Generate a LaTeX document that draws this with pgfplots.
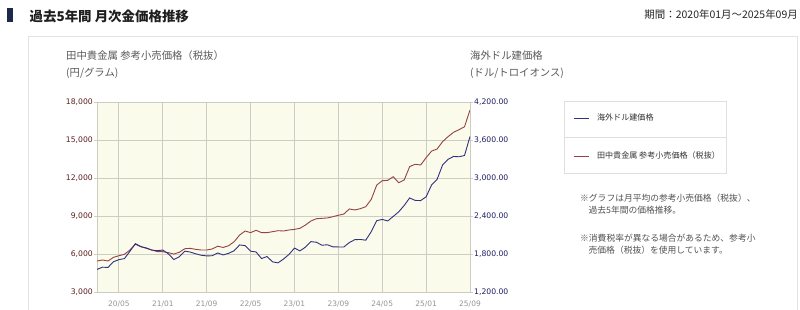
\documentclass[border=0pt]{standalone}
\usepackage{fontspec}
\usepackage{pgfplots}
\usepackage{pgfplotstable}
\pgfplotsset{compat=1.18}
\setmainfont{Noto Sans CJK JP}
\newfontfamily\tickfont{DejaVu Sans}
\definecolor{redline}{RGB}{148,66,66}
\definecolor{blueline}{RGB}{48,48,128}
\definecolor{leftlab}{RGB}{92,30,30}
\definecolor{rightlab}{RGB}{30,30,100}
\definecolor{plotbg}{RGB}{251,251,236}
\definecolor{gridc}{RGB}{205,205,195}
\definecolor{navybar}{RGB}{27,42,74}

\pgfplotstableread{
m yen usd
0 5470 1561
1 5550 1597
2 5470 1592
3 5760 1683
4 5890 1716
5 6000 1732
6 6340 1847
7 6790 1969
8 6600 1922
9 6470 1900
10 6340 1866
11 6210 1858
12 6210 1867
13 6130 1808
14 6020 1718
15 6160 1760
16 6440 1850
17 6470 1835
18 6390 1808
19 6340 1785
20 6340 1775
21 6420 1777
22 6640 1821
23 6540 1790
24 6680 1816
25 6995 1856
26 7520 1948
27 7840 1937
28 7710 1849
29 7895 1837
30 7710 1733
31 7710 1765
32 7785 1681
33 7865 1665
34 7840 1725
35 7920 1798
36 7970 1898
37 8050 1854
38 8310 1913
39 8630 2000
40 8810 1991
41 8840 1943
42 8870 1951
43 8970 1918
44 9080 1916
45 9180 1916
46 9580 1985
47 9500 2031
48 9600 2034
49 9760 2023
50 10340 2158
51 11470 2331
52 11810 2351
53 11840 2326
54 12130 2398
55 11650 2470
56 11870 2571
57 12920 2690
58 13110 2651
59 13050 2648
60 13630 2708
61 14150 2895
62 14310 2984
63 14890 3210
64 15290 3300
65 15630 3345
66 15840 3340
67 16070 3360
68 17400 3660
}\goldtable

\begin{document}
\begin{tikzpicture}[x=1bp,y=1bp]
\path[use as bounding box] (0,0) rectangle (800,309);
% panel border
\draw[draw=gray!22, line width=0.8bp] (28,-2) -- (28,273) -- (797,273) -- (797,-2);
% title
\fill[navybar] (7.3,286.7) rectangle (12.7,300.7);
\node[anchor=west, inner sep=0, font=\fontsize{13.5}{16}\selectfont\bfseries, text=black!88] at (29.5,293) {過去5年間 月次金価格推移};
\node[anchor=east, inner sep=0, font=\fontsize{10.5}{12}\selectfont, text=black!85] at (798,294) {期間：2020年01月～2025年09月};
% axis titles
\node[anchor=west, inner sep=0, font=\fontsize{10.4}{12}\selectfont, text=black!65] at (66,253.5) {田中貴金属 参考小売価格（税抜）};
\node[anchor=west, inner sep=0, font=\fontsize{10.4}{12}\selectfont, text=black!65] at (66,235.5) {(円/グラム)};
\node[anchor=west, inner sep=0, font=\fontsize{10.4}{12}\selectfont, text=black!65] at (470,253.5) {海外ドル建価格};
\node[anchor=west, inner sep=0, font=\fontsize{10.4}{12}\selectfont, text=black!65] at (470,235.5) {(ドル/トロイオンス)};

\begin{axis}[
  at={(97bp,16.7bp)}, anchor=south west, scale only axis,
  width=373bp, height=190bp,
  xmin=0, xmax=68, ymin=3000, ymax=18000,
  xtick={4,12,20,28,36,44,52,60,68},
  xticklabels={20/05,21/01,21/09,22/05,23/01,23/09,24/05,25/01,25/09},
  ytick={3000,6000,9000,12000,15000,18000},
  scaled y ticks=false,
  axis background/.style={fill=plotbg},
  grid=major, major grid style={gridc, line width=0.9bp},
  axis line style={gridc, line width=0.9bp},
  ytick style={gridc, line width=0.9bp},
  xtick style={draw=none},
  tick align=outside, major tick length=3bp,
  /pgf/number format/assume math mode=true,
  /pgf/number format/1000 sep={,},
  yticklabel style={font=\tickfont\fontsize{7.7}{9}\selectfont, text=leftlab, inner sep=1bp},
  xticklabel style={font=\tickfont\fontsize{7.5}{9}\selectfont, text=black!42, yshift=-2.5bp},
  clip=true,
]
\addplot[redline, line width=0.9bp] table[x=m, y=yen]{\goldtable};
\end{axis}

\begin{axis}[
  at={(97bp,16.7bp)}, anchor=south west, scale only axis,
  width=373bp, height=190bp,
  xmin=0, xmax=68, ymin=1200, ymax=4200,
  ytick={1200,1800,2400,3000,3600,4200},
  scaled y ticks=false,
  axis x line=none, axis y line*=right,
  axis line style={gridc, line width=0.9bp},
  ytick style={gridc, line width=0.9bp},
  tick align=outside, major tick length=3bp,
  /pgf/number format/assume math mode=true,
  yticklabel style={font=\tickfont\fontsize{7.7}{9}\selectfont, text=rightlab, inner sep=1bp,
    /pgf/number format/.cd, fixed, fixed zerofill, precision=2, 1000 sep={,}},
  legend style={at={(axis description cs:1.2761,0.8166)}, anchor=west, draw=none, fill=none,
    font=\fontsize{8.1}{9.5}\selectfont, text=black!80, inner sep=0pt, row sep=25.5bp},
  legend cell align=left,
  legend image code/.code={\draw[#1] (0bp,0bp) -- (15bp,0bp);},
  /tikz/every odd column/.append style={column sep=6bp},
]
\addplot[blueline, line width=0.9bp] table[x=m, y=usd]{\goldtable};
\addlegendentry{海外ドル建価格}
\addlegendimage{redline, line width=0.9bp}
\addlegendentry{田中貴金属 参考小売価格（税抜）}
\end{axis}

% legend frame
\draw[gray!25, line width=0.8bp] (564,207.4) rectangle (726,135.7);
\draw[gray!25, line width=0.8bp] (564,171.7) -- (726,171.7);
% notes
\node[anchor=west, inner sep=0, font=\fontsize{8.8}{10}\selectfont, text=black!68] at (580,111) {※グラフは月平均の参考小売価格（税抜）、};
\node[anchor=west, inner sep=0, font=\fontsize{8.8}{10}\selectfont, text=black!68] at (588.5,98.5) {過去5年間の価格推移。};
\node[anchor=west, inner sep=0, font=\fontsize{8.8}{10}\selectfont, text=black!68] at (580,70.5) {※消費税率が異なる場合があるため、参考小};
\node[anchor=west, inner sep=0, font=\fontsize{8.8}{10}\selectfont, text=black!68] at (588.5,58.5) {売価格（税抜）を使用しています。};
\end{tikzpicture}
\end{document}
